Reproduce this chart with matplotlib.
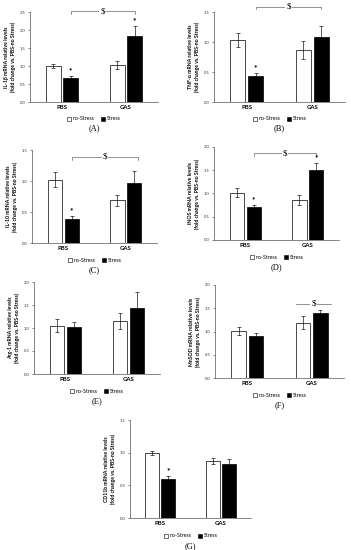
import matplotlib
matplotlib.use("Agg")
import matplotlib.pyplot as plt
from matplotlib.patches import Patch

plt.rcParams['font.family'] = ['Lato', 'DejaVu Sans']

groups = ["PBS", "GAS"]
series = ["no-Stress", "Stress"]

# values [PBS no-Stress, PBS Stress, GAS no-Stress, GAS Stress]
il1b = [1.00, 0.68, 1.03, 1.82]
il1b_err = [0.05, 0.05, 0.10, 0.28]
tnfa = [1.03, 0.43, 0.86, 1.09]
tnfa_err = [0.12, 0.05, 0.15, 0.18]
il10 = [1.02, 0.39, 0.69, 0.96]
il10_err = [0.12, 0.04, 0.09, 0.20]
inos = [1.02, 0.72, 0.86, 1.50]
inos_err = [0.10, 0.03, 0.10, 0.15]
arg1 = [1.05, 1.02, 1.15, 1.44]
arg1_err = [0.14, 0.12, 0.17, 0.35]
mnsod = [1.01, 0.90, 1.19, 1.39]
mnsod_err = [0.08, 0.06, 0.14, 0.08]
cd11b = [1.00, 0.59, 0.87, 0.83]
cd11b_err = [0.03, 0.05, 0.05, 0.07]

W, H = 351, 550
fig = plt.figure(figsize=(W / 100, H / 100), dpi=100)

panels = [
    dict(box=(30, 12, 158, 102), v=il1b, e=il1b_err, ymax=2.5, lab="(A)",
         yl="IL-1\u03b2 mRNA relative levels\n(fold change vs. PBS-no Stress)",
         stars=[1, 3], br=(0.135, 1.135, 2.52, True)),
    dict(box=(214, 12, 345, 102), v=tnfa, e=tnfa_err, ymax=1.5, lab="(B)",
         yl="TNF-\u03b1 mRNA relative levels\n(fold change vs. PBS-no Stress)",
         stars=[1], br=(0.135, 1.135, 1.59, True)),
    dict(box=(32, 150, 157, 243), v=il10, e=il10_err, ymax=1.5, lab="(C)",
         yl="IL-10 mRNA relative levels\n(fold change vs. PBS-no Stress)",
         stars=[1], br=(0.135, 1.2, 1.39, True)),
    dict(box=(214, 147, 339, 240), v=inos, e=inos_err, ymax=2.0, lab="(D)",
         yl="iNOS mRNA relative levels\n(fold change vs. PBS-no Stress)",
         stars=[1, 3], br=(0.135, 1.135, 1.87, True)),
    dict(box=(34, 282, 160, 374), v=arg1, e=arg1_err, ymax=2.0, lab="(E)",
         yl="Arg-1 mRNA relative levels\n(fold change vs. PBS-no Stress)",
         stars=[], br=None),
    dict(box=(215, 285, 344, 378), v=mnsod, e=mnsod_err, ymax=2.0, lab="(F)",
         yl="MnSOD mRNA relative levels\n(fold change vs. PBS-no Stress)",
         stars=[], br=(0.76, 1.3, 1.6, False)),
    dict(box=(130, 420, 251, 518), v=cd11b, e=cd11b_err, ymax=1.5, lab="(G)",
         yl="CD11b mRNA relative levels\n(fold change vs. PBS-no Stress)",
         stars=[1], br=None),
]

bw = 0.23
off = 0.135
xs = [0 - off, 0 + off, 1 - off, 1 + off]
colors = ["white", "black", "white", "black"]
axcol = "#555555"

for p in panels:
    l, t, r, b = p["box"]
    ax = fig.add_axes([l / W, 1 - b / H, (r - l) / W, (b - t) / H])
    ax.bar(xs, p["v"], width=bw, color=colors, edgecolor="black", linewidth=0.5, zorder=2)
    ax.errorbar(xs, p["v"], yerr=p["e"], fmt="none", ecolor="black",
                elinewidth=0.45, capsize=1.3, capthick=0.45, zorder=3)
    ax.set_xlim(-0.5, 1.5)
    ax.set_ylim(0, p["ymax"])
    ax.set_yticks([i * 0.5 for i in range(int(p["ymax"] / 0.5) + 1)])
    ax.yaxis.set_major_formatter(matplotlib.ticker.FormatStrFormatter("%.1f"))
    ax.tick_params(axis="y", labelsize=3.0, length=1.5, width=0.4, pad=1.5,
                   colors="#333333")
    ax.set_xticks([0, 1])
    ax.set_xticklabels(groups, fontsize=4.3, fontweight="bold")
    ax.tick_params(axis="x", length=0, pad=2.5)
    for s in ["top", "right"]:
        ax.spines[s].set_visible(False)
    for s in ["left", "bottom"]:
        ax.spines[s].set_linewidth(0.5)
        ax.spines[s].set_color(axcol)
    ax.set_ylabel(p["yl"], fontsize=3.7, fontweight="bold", labelpad=3,
                  linespacing=1.2)
    for i in p["stars"]:
        ax.text(xs[i], p["v"][i] + p["e"][i] + p["ymax"] * 0.02, "*",
                ha="center", va="bottom", fontsize=6, fontweight="bold")
    if p["br"] is not None:
        x0, x1, y, drops = p["br"]
        d = p["ymax"] * 0.03
        if drops:
            ax.plot([x0, x0, x1, x1], [y - d, y, y, y - d], color=axcol,
                    lw=0.45, clip_on=False)
        else:
            ax.plot([x0, x1], [y, y], color=axcol, lw=0.45, clip_on=False)
        ax.text((x0 + x1) / 2, y, "$", ha="center", va="center", fontsize=6.5,
                family="Liberation Serif",
                bbox=dict(facecolor="white", edgecolor="none", pad=0.8))
    handles = [Patch(facecolor="white", edgecolor="black", linewidth=0.4, label=series[0]),
               Patch(facecolor="black", edgecolor="black", linewidth=0.4, label=series[1])]
    ax.legend(handles=handles, ncol=2, loc="upper center",
              bbox_to_anchor=(0.5, -0.125), frameon=False, fontsize=3.8,
              handlelength=0.8, handleheight=0.8, handletextpad=0.3,
              columnspacing=1.2, borderpad=0.1)
    ax.text(0.5, -0.25, p["lab"], transform=ax.transAxes, ha="center",
            va="top", fontsize=6, family="Liberation Serif")

fig.savefig("out.png", dpi=100)
